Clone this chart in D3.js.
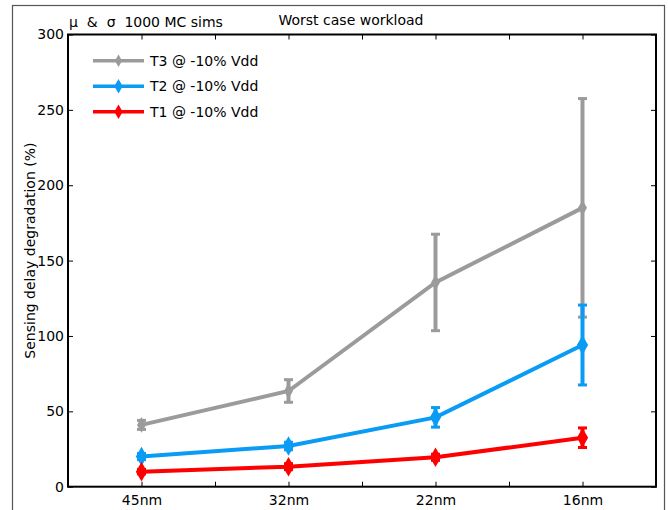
<!DOCTYPE html>
<html>
<head>
<meta charset="utf-8">
<script src="https://cdn.jsdelivr.net/npm/d3@7"></script>
<style>
  body { margin: 0; background: #fff; }
  text { font-family: "DejaVu Sans", sans-serif; fill: #000; }
</style>
</head>
<body>
<div id="chart"></div>
<script>
"use strict";

// categories along the x axis
const nodes = ["45nm", "32nm", "22nm", "16nm"];

// mean degradation (%) per series
const t3Mean = [41, 63.5, 135.5, 185];
const t2Mean = [20, 27, 46, 94];
const t1Mean = [10, 13.3, 19.5, 32.5];

// half width of the error bars (sigma)
const t3Sigma = [3, 7.5, 32, 72.5];
const t2Sigma = [2, 2.5, 6.5, 26.5];
const t1Sigma = [1.5, 2, 2, 6.5];

const seriesNames = ["T3 @ -10% Vdd", "T2 @ -10% Vdd", "T1 @ -10% Vdd"];
const seriesColors = ["#9b9b9b", "#0a9cf5", "#ff0000"];

const yTicks = [0, 50, 100, 150, 200, 250, 300];

drawChart();

function drawChart() {
    const width = 668, height = 510;
    const plot = { left: 68, right: 656, top: 34.5, bottom: 486.7 };

    const svg = d3.select("#chart").append("svg")
        .attr("width", width)
        .attr("height", height);

    //outer figure frame
    svg.append("rect")
        .attr("x", 12.5).attr("y", 5.5)
        .attr("width", 652).attr("height", 520)
        .attr("fill", "none")
        .attr("stroke", "#555")
        .attr("stroke-width", 1.2);

    const x = d3.scaleLinear().domain([0.5, nodes.length + 0.5]).range([plot.left, plot.right]);
    const y = d3.scaleLinear().domain([0, 300]).range([plot.bottom, plot.top]);

    const xTickVals = d3.range(1, nodes.length + 0.01, 0.5);

    //axes: ticks pointing inward
    const bottomAxis = d3.axisBottom(x).tickValues(xTickVals).tickSizeInner(-5).tickSizeOuter(0)
        .tickPadding(8)
        .tickFormat(d => Number.isInteger(d) ? nodes[d - 1] : "");
    const topAxis = d3.axisTop(x).tickValues(xTickVals).tickSizeInner(-5).tickSizeOuter(0).tickFormat("");
    const leftAxis = d3.axisLeft(y).tickValues(yTicks).tickSizeInner(-5).tickSizeOuter(0).tickPadding(4);
    const rightAxis = d3.axisRight(y).tickValues(yTicks).tickSizeInner(-5).tickSizeOuter(0).tickFormat("");

    const styleAxis = g => {
        g.select(".domain").remove();
        g.selectAll(".tick line").attr("stroke", "#000").attr("stroke-width", 1);
        g.selectAll(".tick text").attr("font-size", 14).style("font-family", "DejaVu Sans, sans-serif");
    };

    svg.append("g").attr("transform", `translate(0,${plot.bottom})`).call(bottomAxis).call(styleAxis);
    svg.append("g").attr("transform", `translate(0,${plot.top})`).call(topAxis).call(styleAxis);
    svg.append("g").attr("transform", `translate(${plot.left},0)`).call(leftAxis).call(styleAxis);
    svg.append("g").attr("transform", `translate(${plot.right},0)`).call(rightAxis).call(styleAxis);

    //plot box
    svg.append("rect")
        .attr("x", plot.left).attr("y", plot.top)
        .attr("width", plot.right - plot.left).attr("height", plot.bottom - plot.top)
        .attr("fill", "none")
        .attr("stroke", "#000")
        .attr("stroke-width", 2);

    const series = [
        { mean: t3Mean, sigma: t3Sigma },
        { mean: t2Mean, sigma: t2Sigma },
        { mean: t1Mean, sigma: t1Sigma }
    ];

    const line = d3.line().x((d, i) => x(i + 1)).y(d => y(d));
    const diamond = d3.symbol().type(d3.symbolDiamond);

    series.forEach((s, k) => {
        const color = seriesColors[k];
        const g = svg.append("g");

        g.append("path")
            .datum(s.mean)
            .attr("d", line)
            .attr("fill", "none")
            .attr("stroke", color)
            .attr("stroke-width", 4);

        //error bars
        s.mean.forEach((m, i) => {
            const cx = x(i + 1);
            const lo = y(m - s.sigma[i]), hi = y(m + s.sigma[i]);
            g.append("line")
                .attr("x1", cx).attr("x2", cx).attr("y1", lo).attr("y2", hi)
                .attr("stroke", color).attr("stroke-width", 4);
            [lo, hi].forEach(v => {
                g.append("line")
                    .attr("x1", cx - 4.5).attr("x2", cx + 4.5).attr("y1", v).attr("y2", v)
                    .attr("stroke", color).attr("stroke-width", 3);
            });
        });

        g.selectAll("path.marker")
            .data(s.mean)
            .enter()
            .append("path")
            .classed("marker", true)
            .attr("transform", (d, i) => `translate(${x(i + 1)},${y(d)})`)
            .attr("d", diamond.size(k === 0 ? 70 : 110))
            .attr("fill", color);
    });

    //legend
    const legend = svg.append("g").attr("transform", "translate(93,60.7)");
    seriesNames.forEach((name, k) => {
        const row = legend.append("g").attr("transform", `translate(0,${k * 25.5})`);
        row.append("line")
            .attr("x1", 0).attr("x2", 51).attr("y1", 0).attr("y2", 0)
            .attr("stroke", seriesColors[k]).attr("stroke-width", 3.5);
        row.append("path")
            .attr("transform", "translate(25.5,0)")
            .attr("d", d3.symbol().type(d3.symbolDiamond).size(k === 0 ? 45 : 60)())
            .attr("fill", seriesColors[k]);
        row.append("text")
            .attr("x", 57).attr("y", 5)
            .attr("font-size", 14)
            .text(name);
    });

    //titles
    svg.append("text")
        .attr("x", 69).attr("y", 27)
        .attr("font-size", 14)
        .attr("xml:space", "preserve")
        .text("μ  &  σ  1000 MC sims");

    svg.append("text")
        .attr("x", 351).attr("y", 25)
        .attr("text-anchor", "middle")
        .attr("font-size", 14)
        .text("Worst case workload");

    svg.append("text")
        .attr("transform", `translate(35,${(plot.top + plot.bottom) / 2 - 10}) rotate(-90)`)
        .attr("text-anchor", "middle")
        .attr("font-size", 14)
        .text("Sensing delay degradation (%)");
}
</script>
</body>
</html>
